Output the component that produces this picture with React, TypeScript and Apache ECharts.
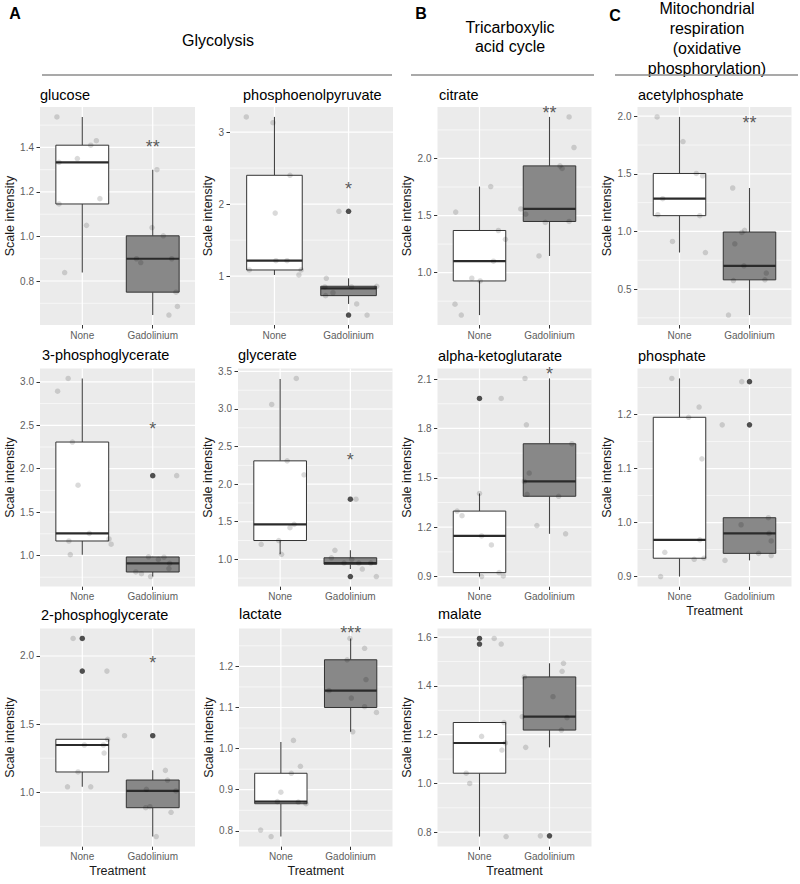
import { useEffect, useRef } from 'react';
import * as echarts from 'echarts';

const FONT = '"Liberation Sans", Arial, Helvetica, sans-serif';
const categories = ['None', 'Gadolinium'];
const xAxisTitle = 'Treatment';
const yAxisTitle = 'Scale intensity';

// ---------------- glucose
const glucoseTicks = ['0.8', '1.0', '1.2', '1.4'];
const glucoseNone = [[0.64, 1.537], [1.2, 1.43], [1.12, 1.41], [0.93, 1.35], [0.67, 1.333], [0.67, 1.146], [1.25, 1.17], [1.06, 1.05], [0.75, 0.838]];
const glucoseGd = [[2.06, 1.3], [1.99, 1.04], [2.15, 1.003], [1.77, 0.9], [1.83, 0.883], [2.27, 0.9], [2.33, 0.75], [2.23, 0.647], [2.35, 0.686]];
const glucoseNoneBox = [0.838, 1.146, 1.333, 1.41, 1.537];
const glucoseGdBox = [0.647, 0.75, 0.9, 1.003, 1.3];
const glucoseOutliers: number[][] = [];
const glucoseStar = [2, 1.42, '**'];

// ---------------- phosphoenolpyruvate
const pepTicks = ['1', '2', '3'];
const pepNone = [[0.62, 3.21], [0.98, 3.13], [1.21, 2.4], [1.01, 1.875], [1.02, 1.215], [1.17, 1.215], [0.66, 1.086], [1.36, 1.086], [1.33, 1.017]];
const pepGd = [[1.87, 1.9], [1.7, 0.97], [2.38, 0.86], [1.68, 0.85], [2.04, 0.85], [1.79, 0.77], [1.69, 0.73], [2.11, 0.615], [2.25, 0.46]];
const pepNoneBox = [1.017, 1.086, 1.215, 2.4, 3.21];
const pepGdBox = [0.615, 0.73, 0.83, 0.86, 0.97];
const pepOutliers = [[2, 1.9], [2, 0.46]];
const pepStar = [2, 2.27, '*'];

// ---------------- 3-phosphoglycerate
const pg3Ticks = ['1.0', '1.5', '2.0', '2.5', '3.0'];
const pg3None = [[0.65, 2.893], [0.8, 3.04], [0.86, 2.307], [0.94, 1.81], [0.81, 1.167], [1.1, 1.255], [1.38, 1.19], [1.41, 1.13], [0.83, 1.01]];
const pg3Gd = [[2.34, 1.92], [1.94, 0.985], [2.08, 0.955], [2.16, 0.98], [2.24, 0.91], [2.23, 0.85], [1.76, 0.81], [1.84, 0.79], [1.97, 0.757]];
const pg3NoneBox = [1.01, 1.167, 1.255, 2.307, 3.04];
const pg3GdBox = [0.757, 0.81, 0.91, 0.983, 0.985];
const pg3Outliers = [[2, 1.92]];
const pg3Star = [2, 2.5, '*'];

// ---------------- glycerate
const glyTicks = ['1.0', '1.5', '2.0', '2.5', '3.0', '3.5'];
const glyNone = [[1.23, 3.407], [0.88, 3.06], [1.1, 2.31], [1.34, 2.124], [1.2, 1.465], [1.14, 1.42], [0.98, 1.25], [0.73, 1.2], [1.02, 1.067]];
const glyGd = [[2.08, 1.8], [1.78, 1.12], [1.73, 1.02], [2.02, 1.0], [1.91, 0.95], [2.12, 0.95], [2.29, 0.95], [2.17, 0.87], [2.37, 0.77]];
const glyNoneBox = [1.067, 1.25, 1.465, 2.31, 3.4];
const glyGdBox = [0.87, 0.935, 0.95, 1.02, 1.12];
const glyOutliers = [[2, 1.8], [2, 0.77]];
const glyStar = [2, 2.37, '*'];

// ---------------- 2-phosphoglycerate
const pg2Ticks = ['1.0', '1.5', '2.0'];
const pg2None = [[0.87, 2.129], [1.35, 1.889], [1.03, 1.347], [1.3, 1.347], [1.31, 1.288], [1.36, 1.389], [0.94, 1.149], [0.79, 1.04], [1.12, 1.04]];
const pg2Gd = [[1.6, 1.415], [2.18, 1.161], [2.21, 1.09], [1.91, 1.022], [2.33, 1.01], [1.9, 0.887], [1.96, 0.894], [2.26, 0.853], [2.05, 0.675]];
const pg2NoneBox = [1.04, 1.149, 1.347, 1.389, 1.389];
const pg2GdBox = [0.675, 0.887, 1.01, 1.09, 1.161];
const pg2Outliers = [[1, 2.129], [1, 1.889], [2, 1.415]];
const pg2Star = [2, 1.98, '*'];

// ---------------- lactate
const lacTicks = ['0.8', '0.9', '1.0', '1.1', '1.2'];
const lacNone = [[1.18, 1.02], [1.28, 0.957], [1.15, 0.94], [1.0, 0.894], [0.95, 0.871], [1.25, 0.87], [1.36, 0.866], [0.71, 0.802], [0.86, 0.786]];
const lacGd = [[1.99, 1.268], [2.2, 1.244], [1.95, 1.216], [2.22, 1.168], [1.69, 1.141], [2.01, 1.123], [2.2, 1.102], [2.37, 1.088], [2.03, 1.041]];
const lacNoneBox = [0.786, 0.866, 0.871, 0.94, 1.016];
const lacGdBox = [1.041, 1.1, 1.141, 1.216, 1.268];
const lacOutliers: number[][] = [];
const lacStar = [2, 1.29, '***'];

// ---------------- citrate
const citTicks = ['1.0', '1.5', '2.0'];
const citNone = [[1.16, 1.754], [0.66, 1.53], [1.27, 1.369], [1.37, 1.292], [1.2, 1.1], [0.89, 0.951], [1.01, 0.927], [0.65, 0.724], [0.74, 0.628]];
const citGd = [[1.59, 1.558], [1.66, 1.512], [1.94, 1.44], [2.28, 1.448], [1.85, 1.146], [2.28, 2.364], [2.35, 2.096], [2.15, 1.935], [2.18, 1.913]];
const citNoneBox = [0.628, 0.927, 1.1, 1.369, 1.754];
const citGdBox = [1.146, 1.448, 1.558, 1.935, 2.364];
const citOutliers: number[][] = [];
const citStar = [2, 2.43, '**'];

// ---------------- alpha-ketoglutarate
const akgTicks = ['0.9', '1.2', '1.5', '1.8', '2.1'];
const akgNone = [[1.31, 1.982], [1.0, 1.405], [0.68, 1.298], [0.75, 1.27], [1.03, 1.147], [1.17, 1.092], [1.28, 0.924], [1.03, 0.9], [1.34, 0.904]];
const akgGd = [[1.65, 2.104], [1.67, 1.822], [2.32, 1.707], [1.71, 1.529], [1.64, 1.478], [1.68, 1.4], [2.13, 1.388], [1.82, 1.21], [2.23, 1.16]];
const akgNoneBox = [0.9, 0.924, 1.147, 1.298, 1.405];
const akgGdBox = [1.16, 1.388, 1.478, 1.707, 2.104];
const akgOutliers = [[1, 1.982]];
const akgStar = [2, 2.155, '*'];

// ---------------- malate
const malTicks = ['0.8', '1.0', '1.2', '1.4', '1.6'];
const malNone = [[1.21, 1.595], [1.31, 1.572], [1.35, 1.25], [1.03, 1.193], [1.37, 1.166], [1.32, 1.137], [0.81, 1.042], [0.86, 1.0], [1.38, 0.782]];
const malGd = [[2.2, 1.493], [2.18, 1.46], [1.64, 1.437], [2.05, 1.356], [1.61, 1.274], [2.25, 1.27], [2.17, 1.219], [1.66, 1.148], [1.87, 0.785]];
const malNoneBox = [0.782, 1.042, 1.166, 1.25, 1.25];
const malGdBox = [1.148, 1.219, 1.274, 1.437, 1.493];
const malOutliers = [[1, 1.595], [1, 1.572], [2, 0.785]];
const malStar: any[] = [];

// ---------------- acetylphosphate
const acpTicks = ['0.5', '1.0', '1.5', '2.0'];
const acpNone = [[0.68, 1.994], [1.05, 1.78], [1.24, 1.503], [1.33, 1.483], [0.76, 1.284], [0.69, 1.145], [1.29, 1.137], [0.9, 0.913], [1.37, 0.817]];
const acpGd = [[1.76, 1.377], [1.93, 1.009], [1.89, 0.991], [1.79, 0.893], [1.92, 0.702], [2.24, 0.639], [1.77, 0.574], [2.22, 0.58], [1.7, 0.274]];
const acpNoneBox = [0.817, 1.137, 1.284, 1.503, 1.994];
const acpGdBox = [0.274, 0.58, 0.702, 0.995, 1.377];
const acpOutliers: number[][] = [];
const acpStar = [2, 1.98, '**'];

// ---------------- phosphate
const phoTicks = ['0.9', '1.0', '1.1', '1.2'];
const phoNone = [[0.89, 1.267], [1.28, 1.214], [1.13, 1.195], [1.32, 1.118], [1.29, 0.968], [0.79, 0.945], [1.21, 0.932], [1.35, 0.934], [0.73, 0.9]];
const phoGd = [[1.89, 1.261], [1.61, 1.181], [2.27, 1.009], [1.88, 0.996], [2.28, 0.98], [2.31, 0.966], [2.13, 0.943], [2.31, 0.939], [1.65, 0.93]];
const phoNoneBox = [0.9, 0.934, 0.968, 1.195, 1.267];
const phoGdBox = [0.93, 0.943, 0.98, 1.009, 1.009];
const phoOutliers = [[2, 1.261], [2, 1.181]];
const phoStar: any[] = [];

const panels = [
  { name: 'glucose', ticks: glucoseTicks, none: glucoseNone, gd: glucoseGd, noneBox: glucoseNoneBox, gdBox: glucoseGdBox, outliers: glucoseOutliers, star: glucoseStar },
  { name: 'phosphoenolpyruvate', ticks: pepTicks, none: pepNone, gd: pepGd, noneBox: pepNoneBox, gdBox: pepGdBox, outliers: pepOutliers, star: pepStar },
  { name: '3-phosphoglycerate', ticks: pg3Ticks, none: pg3None, gd: pg3Gd, noneBox: pg3NoneBox, gdBox: pg3GdBox, outliers: pg3Outliers, star: pg3Star },
  { name: 'glycerate', ticks: glyTicks, none: glyNone, gd: glyGd, noneBox: glyNoneBox, gdBox: glyGdBox, outliers: glyOutliers, star: glyStar },
  { name: '2-phosphoglycerate', ticks: pg2Ticks, none: pg2None, gd: pg2Gd, noneBox: pg2NoneBox, gdBox: pg2GdBox, outliers: pg2Outliers, star: pg2Star },
  { name: 'lactate', ticks: lacTicks, none: lacNone, gd: lacGd, noneBox: lacNoneBox, gdBox: lacGdBox, outliers: lacOutliers, star: lacStar },
  { name: 'citrate', ticks: citTicks, none: citNone, gd: citGd, noneBox: citNoneBox, gdBox: citGdBox, outliers: citOutliers, star: citStar },
  { name: 'alpha-ketoglutarate', ticks: akgTicks, none: akgNone, gd: akgGd, noneBox: akgNoneBox, gdBox: akgGdBox, outliers: akgOutliers, star: akgStar },
  { name: 'malate', ticks: malTicks, none: malNone, gd: malGd, noneBox: malNoneBox, gdBox: malGdBox, outliers: malOutliers, star: malStar },
  { name: 'acetylphosphate', ticks: acpTicks, none: acpNone, gd: acpGd, noneBox: acpNoneBox, gdBox: acpGdBox, outliers: acpOutliers, star: acpStar },
  { name: 'phosphate', ticks: phoTicks, none: phoNone, gd: phoGd, noneBox: phoNoneBox, gdBox: phoGdBox, outliers: phoOutliers, star: phoStar },
];

// layout (pixels): grid left/top/width, title anchor, y-name gap, show x title
const PANEL_H = 218;
const layout = [
  { left: 40, top: 107, width: 155, tx: 40, ty: 95, gap: 19, xName: false },
  { left: 230, top: 107, width: 163, tx: 243, ty: 95, gap: 11, xName: false },
  { left: 40, top: 368.5, width: 155, tx: 42, ty: 355, gap: 19, xName: false },
  { left: 238, top: 368.5, width: 154.5, tx: 238, ty: 355, gap: 20, xName: false },
  { left: 40, top: 628.5, width: 155, tx: 41, ty: 615, gap: 19, xName: true },
  { left: 239, top: 628.5, width: 153.5, tx: 239, ty: 614, gap: 20, xName: true },
  { left: 437.5, top: 107, width: 154, tx: 439, ty: 95, gap: 20, xName: false },
  { left: 437.5, top: 368.5, width: 154, tx: 438, ty: 356, gap: 20, xName: false },
  { left: 437.5, top: 628.5, width: 154, tx: 438, ty: 614, gap: 20, xName: true },
  { left: 637.5, top: 107, width: 154, tx: 638, ty: 95, gap: 20, xName: false },
  { left: 637.5, top: 368.5, width: 154, tx: 638, ty: 356, gap: 20, xName: true },
];

const BOX_WIDTH = 0.75;
const X_MIN = 0.4;
const X_MAX = 2.6;

function yRange(p: any) {
  const vals = [...p.none, ...p.gd].map((d: number[]) => d[1]);
  const lo = Math.min(...vals);
  const hi = Math.max(...vals);
  const r = hi - lo;
  return [lo - 0.05 * r, hi + 0.05 * r];
}

function gridLinesRenderer(ticks: number[], yMin: number, yMax: number) {
  const step = ticks[1] - ticks[0];
  const minorCand = [ticks[0] - step / 2];
  for (let i = 0; i < ticks.length; i++) minorCand.push(ticks[i] + step / 2);
  const minor = minorCand.filter((v) => v > yMin && v < yMax);
  return (params: any, api: any) => {
    const cs = params.coordSys;
    const children: any[] = [];
    minor.forEach((v) => {
      const y = api.coord([1, v])[1];
      children.push({ type: 'line', shape: { x1: cs.x, y1: y, x2: cs.x + cs.width, y2: y }, style: { stroke: '#FFFFFF', lineWidth: 0.6 } });
    });
    ticks.forEach((v) => {
      const y = api.coord([1, v])[1];
      children.push({ type: 'line', shape: { x1: cs.x, y1: y, x2: cs.x + cs.width, y2: y }, style: { stroke: '#FFFFFF', lineWidth: 1.2 } });
    });
    [1, 2].forEach((xv) => {
      const x = api.coord([xv, yMin])[0];
      children.push({ type: 'line', shape: { x1: x, y1: cs.y, x2: x, y2: cs.y + cs.height }, style: { stroke: '#FFFFFF', lineWidth: 1.2 } });
    });
    return { type: 'group', children };
  };
}

function boxRenderer(params: any, api: any) {
  const x = api.value(0);
  const lo = api.value(1), q1 = api.value(2), med = api.value(3), q3 = api.value(4), hi = api.value(5);
  const cx = api.coord([x, med])[0];
  const yLo = api.coord([x, lo])[1];
  const yQ1 = api.coord([x, q1])[1];
  const yMed = api.coord([x, med])[1];
  const yQ3 = api.coord([x, q3])[1];
  const yHi = api.coord([x, hi])[1];
  const hw = api.size([BOX_WIDTH / 2, 0])[0];
  const fill = x === 1 ? '#FFFFFF' : '#888888';
  return {
    type: 'group',
    children: [
      { type: 'line', shape: { x1: cx, y1: yHi, x2: cx, y2: yQ3 }, style: { stroke: '#444444', lineWidth: 1.1 } },
      { type: 'line', shape: { x1: cx, y1: yQ1, x2: cx, y2: yLo }, style: { stroke: '#444444', lineWidth: 1.1 } },
      { type: 'rect', shape: { x: cx - hw, y: yQ3, width: 2 * hw, height: yQ1 - yQ3 }, style: { fill, stroke: '#333333', lineWidth: 1 } },
      { type: 'line', shape: { x1: cx - hw, y1: yMed, x2: cx + hw, y2: yMed }, style: { stroke: '#2b2b2b', lineWidth: 2.2 } },
    ],
  };
}

function buildOption() {
  const grid: any[] = [];
  const xAxis: any[] = [];
  const yAxis: any[] = [];
  const series: any[] = [];
  const graphic: any[] = [];

  panels.forEach((p, i) => {
    const L = layout[i];
    const [yMin, yMax] = yRange(p);
    const tickVals = p.ticks.map(Number);
    grid.push({
      left: L.left, top: L.top, width: L.width, height: PANEL_H,
      show: true, backgroundColor: '#EBEBEB', borderWidth: 0,
      containLabel: false, outerBoundsMode: 'none',
    });
    xAxis.push({
      type: 'value', gridIndex: i, min: X_MIN, max: X_MAX,
      axisLine: { show: false },
      axisTick: { show: true, customValues: [1, 2], length: 3.5, lineStyle: { color: '#333333', width: 1 } },
      axisLabel: {
        show: true, customValues: [1, 2], margin: 5, fontSize: 10, color: '#5e5e5e', fontFamily: FONT,
        formatter: (v: number) => categories[Math.round(v) - 1] ?? '',
      },
      splitLine: { show: false },
      name: L.xName ? xAxisTitle : '',
      nameLocation: 'middle', nameGap: 18,
      nameTextStyle: { fontSize: 12.5, color: '#1a1a1a', fontFamily: FONT },
    });
    yAxis.push({
      type: 'value', gridIndex: i, min: yMin, max: yMax,
      axisLine: { show: false },
      axisTick: { show: true, customValues: tickVals, length: 3.5, lineStyle: { color: '#333333', width: 1 } },
      axisLabel: {
        show: true, customValues: tickVals, margin: 6, fontSize: 10, color: '#5e5e5e', fontFamily: FONT,
        formatter: (v: number) => {
          const idx = tickVals.findIndex((t) => Math.abs(t - v) < 1e-9);
          return idx >= 0 ? p.ticks[idx] : '';
        },
      },
      splitLine: { show: false },
      name: yAxisTitle, nameLocation: 'middle', nameGap: L.gap,
      nameTextStyle: { fontSize: 12.5, color: '#1a1a1a', fontFamily: FONT },
    });

    series.push({
      type: 'custom', xAxisIndex: i, yAxisIndex: i, silent: true, z: 1,
      renderItem: gridLinesRenderer(tickVals, yMin, yMax),
      data: [[1, (yMin + yMax) / 2]],
    });
    series.push({
      type: 'custom', xAxisIndex: i, yAxisIndex: i, silent: true, z: 2,
      renderItem: boxRenderer,
      encode: { x: 0, y: [1, 2, 3, 4, 5] },
      data: [[1, ...p.noneBox], [2, ...p.gdBox]],
    });
    series.push({
      type: 'scatter', xAxisIndex: i, yAxisIndex: i, silent: true, z: 3,
      symbol: 'circle', symbolSize: 5.5,
      itemStyle: { color: '#262626' },
      data: p.outliers,
    });
    series.push({
      type: 'scatter', xAxisIndex: i, yAxisIndex: i, silent: true, z: 4,
      symbol: 'circle', symbolSize: 5.5,
      itemStyle: { color: 'rgba(0,0,0,0.18)' },
      data: [...p.none, ...p.gd],
    });
    if (p.star.length) {
      series.push({
        type: 'scatter', xAxisIndex: i, yAxisIndex: i, silent: true, z: 5,
        symbol: 'circle', symbolSize: 1,
        itemStyle: { color: 'transparent' },
        label: {
          show: true, position: 'inside', offset: [0, 4],
          formatter: (d: any) => d.data[2],
          fontSize: 18, color: '#333333', fontFamily: FONT,
        },
        data: [p.star],
      });
    }

    graphic.push({
      type: 'text', silent: true,
      style: { text: p.name, x: L.tx, y: L.ty, align: 'left', verticalAlign: 'middle', fontSize: 14.5, fontFamily: FONT, fill: '#000000' },
    });
  });

  const headStyle = { fontSize: 16, fontFamily: FONT, fill: '#000000', align: 'center', verticalAlign: 'middle' };
  graphic.push(
    { type: 'text', silent: true, style: { ...headStyle, text: 'A', x: 15, y: 13, fontWeight: 'bold' } },
    { type: 'text', silent: true, style: { ...headStyle, text: 'Glycolysis', x: 218, y: 40 } },
    { type: 'line', silent: true, shape: { x1: 42, y1: 75, x2: 392, y2: 75 }, style: { stroke: '#8c8c8c', lineWidth: 1.5 } },
    { type: 'text', silent: true, style: { ...headStyle, text: 'B', x: 421, y: 13, fontWeight: 'bold' } },
    { type: 'text', silent: true, style: { ...headStyle, text: 'Tricarboxylic\nacid cycle', x: 510, y: 37, lineHeight: 19 } },
    { type: 'line', silent: true, shape: { x1: 411, y1: 75, x2: 594, y2: 75 }, style: { stroke: '#8c8c8c', lineWidth: 1.5 } },
    { type: 'text', silent: true, style: { ...headStyle, text: 'C', x: 615, y: 15, fontWeight: 'bold' } },
    { type: 'text', silent: true, style: { ...headStyle, text: 'Mitochondrial\nrespiration\n(oxidative\nphosphorylation)', x: 707, y: 38.5, lineHeight: 20.3 } },
    { type: 'line', silent: true, shape: { x1: 615, y1: 75, x2: 798, y2: 75 }, style: { stroke: '#8c8c8c', lineWidth: 1.5 } },
  );

  return {
    animation: false,
    backgroundColor: '#FFFFFF',
    textStyle: { fontFamily: FONT },
    grid, xAxis, yAxis, series, graphic,
  };
}

export default function App() {
  const ref = useRef<HTMLDivElement>(null);
  useEffect(() => {
    if (!ref.current) return;
    const chart = echarts.init(ref.current, undefined, { renderer: 'svg' });
    chart.setOption(buildOption() as any);
    return () => chart.dispose();
  }, []);
  return <div ref={ref} style={{ position: 'absolute', left: 0, top: 0, width: 800, height: 884 }} />;
}
